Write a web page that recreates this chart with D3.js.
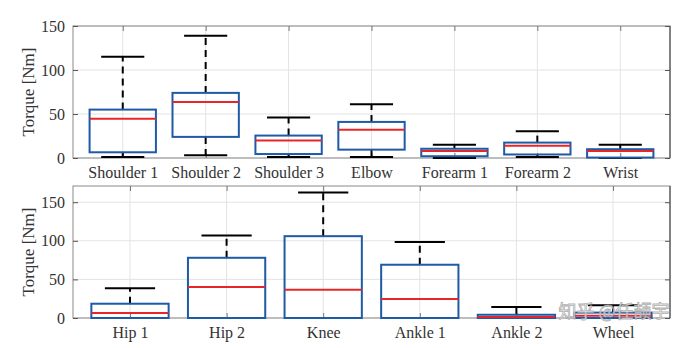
<!DOCTYPE html>
<html><head><meta charset="utf-8">
<script src="https://cdn.jsdelivr.net/npm/d3@7"></script>
<style>body{margin:0;background:#fff}svg{display:block}</style>
</head><body>
<svg id="c" width="695" height="348"></svg>
<script>
// Upper-body joints
const upperCats = ["Shoulder 1","Shoulder 2","Shoulder 3","Elbow","Forearm 1","Forearm 2","Wrist"];
const upperMin  = [1, 3, 1, 1, 0, 1, 0];
const upperQ1   = [6.5, 24, 4.5, 9.5, 2, 4, 0.5];
const upperMed  = [44.5, 63.5, 20, 32, 8, 14, 8];
const upperQ3   = [55, 74, 25.5, 41, 10.5, 17.5, 10];
const upperMax  = [115, 139, 46, 61, 15, 30.5, 15];
const upperTicks = [0, 50, 100, 150];

// Lower-body joints
const lowerCats = ["Hip 1","Hip 2","Knee","Ankle 1","Ankle 2","Wheel"];
const lowerMin  = [0, 0, 0, 0, 0, 0];
const lowerQ1   = [0, 0, 0, 0, 0, 0];
const lowerMed  = [6.5, 40, 36.5, 24.5, 1.3, 3];
const lowerQ3   = [18.5, 78, 106, 69, 4.2, 7];
const lowerMax  = [38.5, 107, 162.5, 98.5, 14.3, 16.5];
const lowerTicks = [0, 50, 100, 150];

const yLabel = "Torque [Nm]";
const watermark = "知乎 @任颉宇";

const svg = d3.select("#c");
const font = "'Liberation Serif','Times New Roman',serif";
const L = 73, R = 670;

function panel(cats, mn, q1, md, q3, mx, ticks, yMax, top, bottom, pad) {
  const n = cats.length;
  const x = d3.scaleLinear().domain([0.5 - pad, n + 0.5 + pad]).range([L, R]);
  const y = d3.scaleLinear().domain([0, yMax]).range([bottom, top]);
  const g = svg.append("g");
  // grid
  g.selectAll(".gx").data(d3.range(1, n + 1)).join("line")
    .attr("x1", d => x(d)).attr("x2", d => x(d)).attr("y1", top).attr("y2", bottom)
    .attr("stroke", "#e3e3e3").attr("stroke-width", 1);
  g.selectAll(".gy").data(ticks).join("line")
    .attr("x1", L).attr("x2", R).attr("y1", d => y(d)).attr("y2", d => y(d))
    .attr("stroke", "#e3e3e3").attr("stroke-width", 1);
  // frame
  g.append("rect").attr("x", L).attr("y", top).attr("width", R - L).attr("height", bottom - top)
    .attr("fill", "none").attr("stroke", "#8a8a8a").attr("stroke-width", 1);
  g.append("line").attr("x1", R).attr("x2", R).attr("y1", top).attr("y2", bottom)
    .attr("stroke", "#555").attr("stroke-width", 1.2);
  // axes
  const ya = d3.axisLeft(y).tickValues(ticks).tickSize(-5).tickPadding(8);
  const yg = g.append("g").attr("transform", `translate(${L},0)`).call(ya);
  yg.select(".domain").remove();
  yg.selectAll("line").attr("stroke", "#555");
  yg.selectAll("text").attr("font-family", font).attr("font-size", 16).attr("fill", "#333");
  const yr = d3.axisRight(y).tickValues(ticks).tickSize(-5).tickFormat("");
  const yrg = g.append("g").attr("transform", `translate(${R},0)`).call(yr);
  yrg.select(".domain").remove();
  yrg.selectAll("line").attr("stroke", "#555");
  const xa = d3.axisBottom(x).tickValues(d3.range(1, n + 1)).tickSize(-5).tickPadding(9)
    .tickFormat((d, i) => cats[i]);
  const xg = g.append("g").attr("transform", `translate(0,${bottom})`).call(xa);
  xg.select(".domain").remove();
  xg.selectAll("line").attr("stroke", "#777");
  xg.selectAll("text").attr("font-family", font).attr("font-size", 16).attr("fill", "#333");
  const xt = d3.axisTop(x).tickValues(d3.range(1, n + 1)).tickSize(-5).tickFormat("");
  const xtg = g.append("g").attr("transform", `translate(0,${top})`).call(xt);
  xtg.select(".domain").remove();
  xtg.selectAll("line").attr("stroke", "#777");
  // y label
  g.append("text").attr("transform", `translate(30,${(top + bottom) / 2}) rotate(-90)`)
    .attr("text-anchor", "middle").attr("dominant-baseline", "middle")
    .attr("font-family", font).attr("font-size", 17).attr("fill", "#333").text(yLabel);

  const bw = 0.8, cw = 0.52;
  const idx = d3.range(n);
  const b = g.append("g");
  // whiskers dashed
  b.selectAll(".wu").data(idx).join("line")
    .attr("x1", i => x(i + 1)).attr("x2", i => x(i + 1))
    .attr("y1", i => y(q3[i])).attr("y2", i => y(mx[i]))
    .attr("stroke", "#000").attr("stroke-width", 2).attr("stroke-dasharray", "7,5");
  b.selectAll(".wl").data(idx).join("line")
    .attr("x1", i => x(i + 1)).attr("x2", i => x(i + 1))
    .attr("y1", i => y(q1[i])).attr("y2", i => y(mn[i]))
    .attr("stroke", "#000").attr("stroke-width", 2).attr("stroke-dasharray", "7,5");
  // caps
  b.selectAll(".cu").data(idx).join("line")
    .attr("x1", i => x(i + 1 - cw / 2)).attr("x2", i => x(i + 1 + cw / 2))
    .attr("y1", i => y(mx[i])).attr("y2", i => y(mx[i]))
    .attr("stroke", "#000").attr("stroke-width", 2);
  b.selectAll(".cl").data(idx).join("line")
    .attr("x1", i => x(i + 1 - cw / 2)).attr("x2", i => x(i + 1 + cw / 2))
    .attr("y1", i => y(mn[i])).attr("y2", i => y(mn[i]))
    .attr("stroke", "#000").attr("stroke-width", 2);
  // boxes
  b.selectAll(".bx").data(idx).join("rect")
    .attr("x", i => x(i + 1 - bw / 2)).attr("width", i => x(i + 1 + bw / 2) - x(i + 1 - bw / 2))
    .attr("y", i => y(q3[i])).attr("height", i => Math.max(0.5, y(q1[i]) - y(q3[i])))
    .attr("fill", "none").attr("stroke", "#1f5aa6").attr("stroke-width", 2);
  // medians
  b.selectAll(".md").data(idx).join("line")
    .attr("x1", i => x(i + 1 - bw / 2)).attr("x2", i => x(i + 1 + bw / 2))
    .attr("y1", i => y(md[i])).attr("y2", i => y(md[i]))
    .attr("stroke", "#e8262a").attr("stroke-width", 2);
}

panel(upperCats, upperMin, upperQ1, upperMed, upperQ3, upperMax, upperTicks, 150, 26, 158, 0.1);
panel(lowerCats, lowerMin, lowerQ1, lowerMed, lowerQ3, lowerMax, lowerTicks, 171, 186, 318, 0.09);

svg.append("text").attr("x", 614).attr("y", 318).attr("text-anchor", "middle")
  .attr("font-family", "'Noto Sans CJK SC',sans-serif").attr("font-size", 18)
  .attr("fill", "#fff").attr("fill-opacity", 0.85)
  .attr("stroke", "#999").attr("stroke-width", 0.8).attr("stroke-opacity", 0.8)
  .text(watermark);
</script>
</body></html>
